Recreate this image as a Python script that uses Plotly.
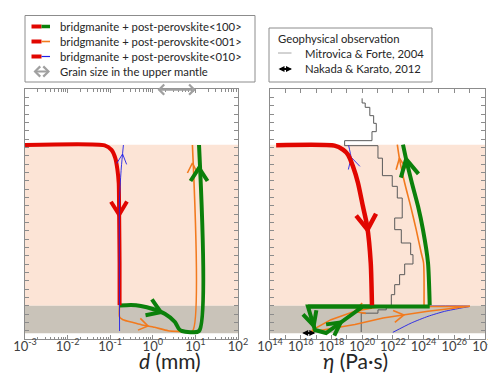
import numpy as np
import plotly.graph_objects as go

W, H = 496, 380

# screen-pixel frames of the two panels
LX = (17.0, 230.0)
RX = (262.0, 477.0)
PY = (81.0, 331.0)
LRANGE = (-3.0, 2.0)     # log10 d (mm)
RRANGE = (14.0, 28.0)    # log10 eta (Pa s)
DEPTH = (0.0, 3000.0)    # km

# ---------------- data ----------------
UM_BOTTOM = 670
DPP_TOP = 2600
CMB = 2930

# Left panel : log10 grain size (mm) vs depth (km)
red_logd = [-3.0, -1.13, -0.97, -0.88, -0.83, -0.80, -0.79, -0.78, -0.78]
red_logd_depth = [672, 676, 730, 830, 970, 1130, 1520, 2090, 2595]

green_logd = [-0.78, -0.51, -0.28, 0.0, 0.29, 0.52, 0.615, 0.685, 1.085, 1.085]
green_logd_depth = [2598, 2592, 2604, 2640, 2700, 2796, 2880, 2904, 2904, 672]

orange_logd = [-0.78, -0.78, -0.70, -0.465, -0.27, 0.045, 0.357, 0.59, 0.93, 0.93]
orange_logd_depth = [2598, 2736, 2768, 2802, 2828, 2860, 2900, 2908, 2908, 672]

blue_logd = [-0.78, -0.78, -0.74, -0.69]
blue_logd_depth = [2904, 1308, 948, 672]

upper_mantle_grain_logd = [0.075, 1.01]

# Right panel : log10 viscosity (Pa s) vs depth (km)
red_logeta = [14.4, 18.2, 18.75, 19.08, 19.4, 19.73, 20.05, 20.33, 20.56, 20.64]
red_logeta_depth = [675, 680, 728, 788, 928, 1128, 1408, 1648, 2088, 2595]

green_up_logeta = [24.4, 24.29, 23.96, 23.64, 23.24, 22.87, 22.66]
green_up_depth = [2595, 2088, 1688, 1408, 1128, 848, 668]
green_dpp_logeta = [20.64, 16.47, 16.93, 17.65, 20.05]
green_dpp_depth = [2610, 2610, 2892, 2928, 2610]
green_top_logeta = [16.47, 24.4]
green_top_depth = [2610, 2610]

orange_up_logeta = [24.03, 24.0, 23.85, 23.52, 23.16, 22.77, 22.44, 22.29]
orange_up_depth = [2595, 2088, 1968, 1688, 1408, 1128, 848, 668]
orange_down_logeta = [21.03, 19.53, 17.97, 16.8, 16.67]
orange_down_depth = [2616, 2668, 2768, 2888, 2916]
orange_rise_logeta = [16.67, 19.53, 21.36, 24.29, 27.02, 24.03]
orange_rise_depth = [2916, 2826, 2748, 2668, 2608, 2610]

blue_dpp_logeta = [20.64, 27.02, 26.45, 25.37, 24.29, 23.2, 22.0]
blue_dpp_depth = [2610, 2608, 2628, 2668, 2728, 2808, 2920]
blue_up_logeta = [20.64, 20.56, 20.33, 20.05, 19.73, 19.45, 19.29, 19.12]
blue_up_depth = [2595, 2088, 1648, 1408, 1128, 928, 820, 676]

# Mitrovica & Forte (2004) layered viscosity profile
mf_top = [112, 168, 220, 320, 412, 512, 620, 680, 830, 1040, 1168, 1308, 1548, 1688,
          1848, 1988, 2100, 2228, 2348, 2468, 2600, 2650, 2690]
mf_bottom = mf_top[1:] + [2916]
mf_logeta = [20.0, 20.2, 20.5, 20.75, 20.92, 20.64, 18.86, 21.03, 21.32, 21.96, 22.29,
             22.61, 22.12, 22.55, 23.16, 23.31, 22.77, 22.44, 22.12, 21.9, 21.57, 21.03, 19.94]

# Nakada & Karato (2012) range
nk_logeta = [16.0, 16.95]
nk_depth = 2928

# arrow (chevron) positions along paths: (x, depth, length px, half-width px)
arrows_left = {
    "red": [(-0.79, 1508, 13, 8)],
    "green": [(0.17, 2700, 13, 8.5), (1.085, 948, 13, 8.5)],
    "orange": [(-0.11, 2836, 9, 6), (0.93, 888, 10, 5)],
    "blue": [(-0.70, 780, 10, 5)],
}
arrows_right = {
    "red": [(20.33, 1688, 15, 10)],
    "blue_up": [(19.29, 820, 11, 6)],
    "orange_up": [(22.5, 828, 11, 5)],
    "green_up": [(22.9, 840, 17, 9)],
    "green_dpp": [(16.85, 2840, 14, 7), (18.6, 2800, 13, 7)],
    "orange_down": [(19.5, 2668, 10, 5.5)],
    "orange_rise": [(22.7, 2690, 10, 6)],
}

RED = "#E10600"
GREEN = "#0B800B"
ORANGE = "#F27A1E"
BLUE = "#2020E8"
PEACH = "#FCE4D6"
GRAYBG = "#C9C3B9"
AXC = "#8C8C8C"
FONT = "Lato"


def to_px(xv, dv, frame, rng):
    x = frame[0] + (xv - rng[0]) / (rng[1] - rng[0]) * (frame[1] - frame[0])
    y = PY[0] + (dv - DEPTH[0]) / (DEPTH[1] - DEPTH[0]) * (PY[1] - PY[0])
    return np.array([x, y])


def from_px(p, frame, rng):
    xv = rng[0] + (p[0] - frame[0]) / (frame[1] - frame[0]) * (rng[1] - rng[0])
    dv = DEPTH[0] + (p[1] - PY[0]) / (PY[1] - PY[0]) * (DEPTH[1] - DEPTH[0])
    return xv, dv


def chevron(xs, ds, spec, frame, rng):
    tx, td, length, half = spec
    P = [to_px(x, d, frame, rng) for x, d in zip(xs, ds)]
    T = to_px(tx, td, frame, rng)
    best = None
    for a, b in zip(P[:-1], P[1:]):
        ab = b - a
        L2 = ab @ ab
        if L2 == 0:
            continue
        t = np.clip((T - a) @ ab / L2, 0, 1)
        q = a + t * ab
        dist = np.linalg.norm(T - q)
        if best is None or dist < best[0]:
            best = (dist, q, ab / np.sqrt(L2))
    _, q, u = best
    n = np.array([-u[1], u[0]])
    pts = [q - length * u + half * n, q, q - length * u - half * n]
    out = [from_px(p, frame, rng) for p in pts]
    return [o[0] for o in out], [o[1] for o in out]


fig = go.Figure()


def add_path(xs, ds, color, width, axis, shape="spline", arrows=()):
    xa, ya = ("x", "y") if axis == "L" else ("x2", "y2")
    frame, rng = (LX, LRANGE) if axis == "L" else (RX, RRANGE)
    fig.add_trace(go.Scatter(x=xs, y=ds, mode="lines", xaxis=xa, yaxis=ya,
                             line=dict(color=color, width=width, shape=shape, smoothing=0.6),
                             hoverinfo="skip", showlegend=False))
    for spec in arrows:
        cx, cy = chevron(xs, ds, spec, frame, rng)
        fig.add_trace(go.Scatter(x=cx, y=cy, mode="lines", xaxis=xa, yaxis=ya,
                                 line=dict(color=color, width=width),
                                 hoverinfo="skip", showlegend=False))


# Mitrovica step profile
mf_x, mf_y = [], []
for t, b, v in zip(mf_top, mf_bottom, mf_logeta):
    mf_x += [v, v]
    mf_y += [t, b]
fig.add_trace(go.Scatter(x=mf_x, y=mf_y, mode="lines", xaxis="x2", yaxis="y2",
                         line=dict(color="#5A5A5A", width=1), hoverinfo="skip",
                         showlegend=False))

# ---- left panel ----
add_path(orange_logd, orange_logd_depth, ORANGE, 1.6, "L", arrows=arrows_left["orange"])
add_path(green_logd, green_logd_depth, GREEN, 4, "L", arrows=arrows_left["green"])
add_path(red_logd, red_logd_depth, RED, 4, "L", arrows=arrows_left["red"])
add_path(blue_logd, blue_logd_depth, BLUE, 0.9, "L", arrows=arrows_left["blue"])

# ---- right panel ----
add_path(blue_dpp_logeta, blue_dpp_depth, BLUE, 0.9, "R")
add_path(orange_up_logeta, orange_up_depth, ORANGE, 1.6, "R", arrows=arrows_right["orange_up"])
add_path(orange_down_logeta, orange_down_depth, ORANGE, 1.6, "R", shape="linear",
         arrows=arrows_right["orange_down"])
add_path(orange_rise_logeta, orange_rise_depth, ORANGE, 1.6, "R", shape="linear",
         arrows=arrows_right["orange_rise"])
add_path(green_up_logeta, green_up_depth, GREEN, 4, "R", arrows=arrows_right["green_up"])
add_path(green_dpp_logeta, green_dpp_depth, GREEN, 4, "R", shape="linear",
         arrows=arrows_right["green_dpp"])
add_path(green_top_logeta, green_top_depth, GREEN, 4, "R", shape="linear")
add_path(blue_up_logeta, blue_up_depth, BLUE, 0.9, "R", arrows=arrows_right["blue_up"])
add_path(red_logeta, red_logeta_depth, RED, 4.5, "R", arrows=arrows_right["red"])

# ---- background layers ----
shapes = []
for xr, yr in (("x domain", "y"), ("x2 domain", "y2")):
    shapes.append(dict(type="rect", xref=xr, yref=yr, x0=0, x1=1, y0=UM_BOTTOM, y1=DPP_TOP,
                       fillcolor=PEACH, line_width=0, layer="below"))
    shapes.append(dict(type="rect", xref=xr, yref=yr, x0=0, x1=1, y0=DPP_TOP, y1=CMB,
                       fillcolor=GRAYBG, line_width=0, layer="below"))


def px(x):
    return x / W


def py(y):
    return 1 - y / H


# legend boxes
shapes.append(dict(type="rect", xref="paper", yref="paper", x0=px(17), x1=px(247),
                   y0=py(7.5), y1=py(74), line=dict(color="#8C8C8C", width=1), fillcolor="white"))
shapes.append(dict(type="rect", xref="paper", yref="paper", x0=px(261), x1=px(424),
                   y0=py(20), y1=py(74), line=dict(color="#8C8C8C", width=1), fillcolor="white"))
leg_rows = [(18.5, GREEN, 3.5), (33.5, ORANGE, 1.6), (48.5, BLUE, 1.2)]
for yy, c, w in leg_rows:
    shapes.append(dict(type="line", xref="paper", yref="paper", x0=px(23.5), x1=px(33.5),
                       y0=py(yy), y1=py(yy), line=dict(color=RED, width=4)))
    shapes.append(dict(type="line", xref="paper", yref="paper", x0=px(33.5), x1=px(42),
                       y0=py(yy), y1=py(yy), line=dict(color=c, width=w)))
shapes.append(dict(type="line", xref="paper", yref="paper", x0=px(270), x1=px(283.5),
                   y0=py(45), y1=py(45), line=dict(color="#A6A6A6", width=1)))

annotations = []
leg_texts = [("bridgmanite + post-perovskite&lt;100&gt;", 50, 18),
             ("bridgmanite + post-perovskite&lt;001&gt;", 50, 33),
             ("bridgmanite + post-perovskite&lt;010&gt;", 50, 48.5),
             ("Grain size in the upper mantle", 50, 63.5),
             ("Geophysical observation", 268, 30),
             ("Mitrovica &amp; Forte, 2004", 294.5, 45.5),
             ("Nakada &amp; Karato, 2012", 294.5, 61)]
for t, x, y in leg_texts:
    annotations.append(dict(text=t, x=px(x), y=py(y), xref="paper", yref="paper",
                            xanchor="left", yanchor="middle", showarrow=False,
                            font=dict(family=FONT, size=11.3, color="#262626")))
# legend arrows
annotations.append(dict(x=px(42), y=py(63.5), ax=-18, ay=0, xref="paper", yref="paper",
                        axref="pixel", ayref="pixel", text="", showarrow=True,
                        arrowside="end+start", arrowhead=4, arrowsize=0.9, arrowwidth=2.2,
                        arrowcolor="#A0A0A0", standoff=0, startstandoff=0))
annotations.append(dict(x=px(284), y=py(61), ax=-15, ay=0, xref="paper", yref="paper",
                        axref="pixel", ayref="pixel", text="", showarrow=True,
                        arrowside="end+start", arrowhead=2, arrowsize=0.6, arrowwidth=2,
                        arrowcolor="black", standoff=0, startstandoff=0))
# grain size in upper mantle (gray double arrow at top of left panel)
annotations.append(dict(x=upper_mantle_grain_logd[1], y=8, ax=upper_mantle_grain_logd[0], ay=8,
                        xref="x", yref="y", axref="x", ayref="y", text="", showarrow=True,
                        arrowside="end+start", arrowhead=4, arrowsize=0.9, arrowwidth=2.2,
                        arrowcolor="#A0A0A0", standoff=0, startstandoff=0))
# Nakada & Karato
annotations.append(dict(x=nk_logeta[1], y=nk_depth, ax=nk_logeta[0], ay=nk_depth,
                        xref="x2", yref="y2", axref="x2", ayref="y2", text="", showarrow=True,
                        arrowside="end+start", arrowhead=2, arrowsize=0.6, arrowwidth=2,
                        arrowcolor="black", standoff=0, startstandoff=0))
# axis titles
annotations.append(dict(text="<i>d</i> (mm)", x=px(129), y=py(367), xref="paper", yref="paper",
                        showarrow=False, font=dict(family=FONT, size=21, color="#262626")))
annotations.append(dict(text="<i>η</i> (Pa·s)", x=px(382), y=py(367), xref="paper", yref="paper",
                        showarrow=False, font=dict(family=FONT, size=21, color="#262626")))

left_ticks = list(range(-3, 3))
left_minor = [n + np.log10(k) for n in range(-3, 2) for k in range(2, 10)]
right_ticks = list(range(14, 29))
right_text = [f"10<sup>{v}</sup>" if v % 2 == 0 else " " for v in right_ticks]
depth_ticks = list(range(0, 3001, 100))

tickfont = dict(family=FONT, size=13, color="#404040")
common_x = dict(ticks="inside", ticklen=4, tickcolor=AXC, showline=True, linecolor=AXC,
                linewidth=1, mirror="ticks", showgrid=False, zeroline=False, tickfont=tickfont,
                fixedrange=True, tickangle=0, automargin=False, tickmode="array",
                ticklabelstandoff=-5)
common_y = dict(ticks="inside", ticklen=4, tickcolor=AXC, showline=True, linecolor=AXC,
                linewidth=1, mirror="ticks", showgrid=False, zeroline=False,
                showticklabels=False, range=[DEPTH[1], DEPTH[0]], tickvals=depth_ticks,
                tickmode="array", automargin=False, fixedrange=True,
                domain=[py(PY[1]), py(PY[0])])

fig.update_layout(
    width=W, height=H, margin=dict(l=0, r=0, t=0, b=0, autoexpand=False),
    paper_bgcolor="white", plot_bgcolor="white", showlegend=False,
    xaxis=dict(domain=[px(LX[0]), px(LX[1])], range=list(LRANGE), anchor="y",
               tickvals=left_ticks, ticktext=[f"10<sup>{v}</sup>" for v in left_ticks],
               minor=dict(tickvals=left_minor, ticks="inside", ticklen=2.5, tickcolor=AXC),
               **common_x),
    xaxis2=dict(domain=[px(RX[0]), px(RX[1])], range=list(RRANGE), anchor="y2",
                tickvals=right_ticks, ticktext=right_text, **common_x),
    yaxis=dict(anchor="x", **common_y),
    yaxis2=dict(anchor="x2", **common_y),
    shapes=shapes, annotations=annotations,
)

fig.write_html("out.html")
